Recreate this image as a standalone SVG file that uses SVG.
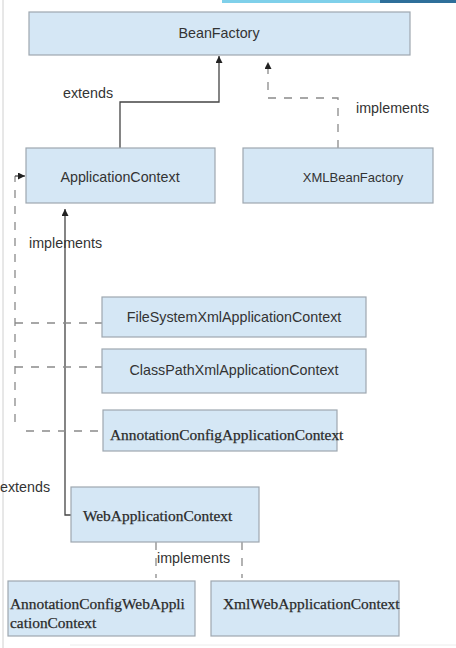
<svg xmlns="http://www.w3.org/2000/svg" width="456" height="648" viewBox="0 0 456 648">
<defs>
<style>
.box{fill:#d5e7f5;stroke:#9ea7b0;stroke-width:1.2}
.t{font-family:"Liberation Sans",Arial,sans-serif;font-size:14.3px;fill:#333;text-anchor:middle;dominant-baseline:central}
.s{font-family:"Liberation Serif","Times New Roman",serif;font-size:15.4px;fill:#2a2a2a;stroke:#2a2a2a;stroke-width:0.25;dominant-baseline:central}
.lbl{font-family:"Liberation Sans",Arial,sans-serif;font-size:14.3px;fill:#333;dominant-baseline:central}
.solid{fill:none;stroke:#444;stroke-width:1.3}
.dash{fill:none;stroke:#8a8a8a;stroke-width:1.3;stroke-dasharray:8 8}
</style>
<marker id="ah" viewBox="0 0 10 10" refX="10" refY="5" markerWidth="9" markerHeight="7" markerUnits="userSpaceOnUse" orient="auto">
<path d="M0,0 L10,5 L0,10 z" fill="#222"/>
</marker>
</defs>
<rect x="0" y="0" width="456" height="648" fill="#fff"/>
<rect x="222" y="0" width="158" height="3" fill="#7fd0ea"/>
<rect x="380" y="0" width="76" height="3" fill="#2f6f9a"/>
<line x1="3" y1="0" x2="3" y2="648" stroke="#d0d0d0" stroke-width="1"/>
<line x1="70" y1="645" x2="456" y2="645" stroke="#ececec" stroke-width="1"/>

<g id="connectors">
<path class="solid" d="M120,148 V102 H219 V56" marker-end="url(#ah)"/>
<path class="dash" d="M338,148 V98 H268 V62" marker-end="url(#ah)"/>
<path class="solid" d="M71,515 H65 V209" marker-end="url(#ah)"/>
<path class="dash" d="M15,422 V176"/>
<path class="solid" d="M15,176 H25" marker-end="url(#ah)"/>
<path class="dash" d="M15,323 H102"/>
<path class="dash" d="M15,367 H102"/>
<path class="dash" d="M26,431 H103"/>
<path class="dash" d="M156,542 V578"/>
<path class="dash" d="M242,542 V578"/>
<text class="lbl" x="63" y="93">extends</text>
<text class="lbl" x="356" y="108">implements</text>
<text class="lbl" x="29" y="243">implements</text>
<text class="lbl" x="0" y="487">extends</text>
<text class="lbl" x="157" y="558">implements</text>
</g>

<g id="BeanFactory">
<rect class="box" x="29" y="12" width="381" height="43"/>
<text class="t" x="219" y="33">BeanFactory</text>
</g>
<g id="ApplicationContext">
<rect class="box" x="26" y="148" width="189" height="55"/>
<text class="t" x="120" y="177">ApplicationContext</text>
</g>
<g id="XMLBeanFactory">
<rect class="box" x="243" y="148" width="190" height="55"/>
<text class="t" x="353" y="177" style="font-size:13px">XMLBeanFactory</text>
</g>
<g id="FileSystemXmlApplicationContext">
<rect class="box" x="102" y="297" width="264" height="40"/>
<text class="t" x="234" y="317">FileSystemXmlApplicationContext</text>
</g>
<g id="ClassPathXmlApplicationContext">
<rect class="box" x="102" y="349" width="264" height="44"/>
<text class="t" x="234" y="370">ClassPathXmlApplicationContext</text>
</g>
<g id="AnnotationConfigApplicationContext">
<rect class="box" x="103" y="410" width="234" height="41"/>
<text class="s" x="110" y="434">AnnotationConfigApplicationContext</text>
</g>
<g id="WebApplicationContext">
<rect class="box" x="71" y="487" width="188" height="55"/>
<text class="s" x="83" y="515">WebApplicationContext</text>
</g>
<g id="AnnotationConfigWebApplicationContext">
<rect class="box" x="8" y="581" width="187" height="55"/>
<text class="s" x="10" y="603">AnnotationConfigWebAppli</text>
<text class="s" x="10" y="622">cationContext</text>
</g>
<g id="XmlWebApplicationContext">
<rect class="box" x="211" y="581" width="188" height="55"/>
<text class="s" x="223" y="603">XmlWebApplicationContext</text>
</g>
</svg>
